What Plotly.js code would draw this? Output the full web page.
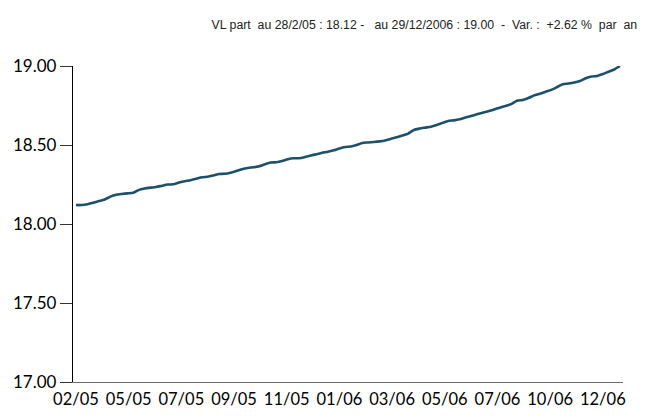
<!DOCTYPE html>
<html>
<head>
<meta charset="utf-8">
<script src="https://cdn.plot.ly/plotly-3.0.1.min.js"></script>
<style>
  html, body { margin: 0; padding: 0; background: #ffffff; }
  #chart { width: 670px; height: 418px; }
</style>
</head>
<body>
<div id="chart"></div>
<script>
// Weekly NAV (VL part) from 28/2/05 to 29/12/06
const vl = [
  18.120, 18.120, 18.125, 18.135, 18.145, 18.155, 18.173, 18.185, 18.190, 18.194,
  18.198, 18.216, 18.225, 18.230, 18.234, 18.242, 18.250, 18.251, 18.262, 18.270,
  18.277, 18.286, 18.296, 18.299, 18.307, 18.316, 18.318, 18.325, 18.335, 18.347,
  18.355, 18.359, 18.365, 18.378, 18.389, 18.391, 18.399, 18.410, 18.416, 18.416,
  18.424, 18.433, 18.442, 18.451, 18.457, 18.466, 18.478, 18.487, 18.490, 18.500,
  18.513, 18.516, 18.519, 18.523, 18.529, 18.539, 18.549, 18.560, 18.572, 18.595,
  18.604, 18.610, 18.616, 18.627, 18.640, 18.652, 18.656, 18.663, 18.674, 18.684,
  18.694, 18.704, 18.714, 18.725, 18.736, 18.747, 18.759, 18.780, 18.785, 18.797,
  18.814, 18.825, 18.837, 18.849, 18.866, 18.885, 18.889, 18.895, 18.905, 18.923,
  18.934, 18.937, 18.949, 18.964, 18.978, 19.000
];
const weekIndex = vl.map((v, i) => i);

const tickLabels = ['02/05','05/05','07/05','09/05','11/05','01/06','03/06','05/06','07/06','10/06','12/06'];
const tickWeeks  = [0, 9.2, 18.4, 27.6, 36.8, 46, 55.2, 64.4, 73.6, 82.8, 92];

const yTicks = [17.0, 17.5, 18.0, 18.5, 19.0];

const titleText = 'VL part\u00A0 au 28/2/05 : 18.12 -\u00A0\u00A0 au 29/12/2006 : 19.00\u00A0 -\u00A0 Var. :\u00A0 +2.62 %\u00A0 par\u00A0 an';

const trace = {
  x: weekIndex,
  y: vl,
  type: 'scatter',
  mode: 'lines',
  line: { color: '#1d5069', width: 2.6, shape: 'spline', smoothing: 0.6 },
  hoverinfo: 'skip'
};

const tickFontFamily = 'Lato, Noto Sans, sans-serif';

const layout = {
  width: 670,
  height: 418,
  margin: { l: 73, r: 47, t: 66, b: 36 },
  paper_bgcolor: '#ffffff',
  plot_bgcolor: '#ffffff',
  showlegend: false,
  title: {
    text: titleText,
    xref: 'container', yref: 'container',
    x: 0.951, xanchor: 'right',
    y: 1 - 25 / 418, yanchor: 'middle',
    font: { family: 'Liberation Sans Narrow, Arial Narrow, Liberation Sans, Arial, sans-serif', size: 12.3, color: '#222222' }
  },
  xaxis: {
    range: [-0.52, 95.52],
    tickmode: 'array',
    tickvals: tickWeeks,
    ticktext: tickLabels,
    tickangle: 0,
    ticks: '',
    ticklabelstandoff: 2,
    showgrid: false,
    zeroline: false,
    showline: true,
    linecolor: '#6a6a6a',
    linewidth: 1.2,
    tickfont: { family: tickFontFamily, size: 16.5, color: '#000000' },
    fixedrange: true
  },
  yaxis: {
    range: [17, 19],
    tickmode: 'array',
    tickvals: yTicks,
    tickformat: '.2f',
    ticks: 'outside',
    ticklen: 12,
    tickwidth: 1,
    tickcolor: '#333333',
    ticklabelstandoff: 0,
    showgrid: false,
    zeroline: false,
    showline: true,
    linecolor: '#000000',
    linewidth: 1.2,
    tickfont: { family: tickFontFamily, size: 17, color: '#000000' },
    fixedrange: true
  }
};

Plotly.newPlot('chart', [trace], layout, { displayModeBar: false, staticPlot: true });
</script>
</body>
</html>
